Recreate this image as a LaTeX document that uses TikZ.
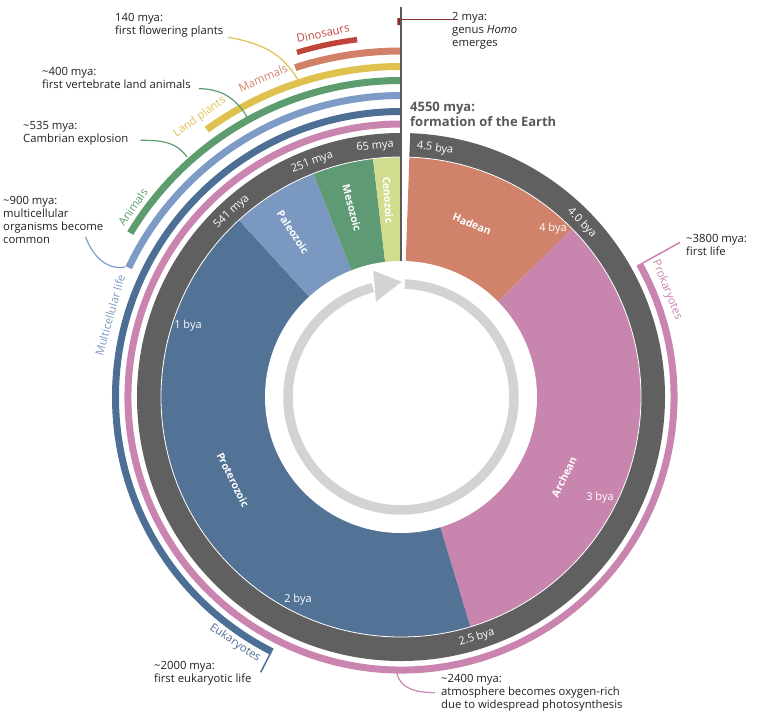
\documentclass[tikz,border=0pt]{standalone}
\usepackage{fontspec}
\setmainfont{Open Sans}
\usepackage{xcolor}
\usepackage{tikz}
\usetikzlibrary{positioning,calc}

\definecolor{ringgrey}{HTML}{606060}
\definecolor{axisgrey}{HTML}{5A5A5A}
\definecolor{titlegrey}{HTML}{58595B}
\definecolor{arrowgrey}{HTML}{D1D3D4}
\definecolor{notetext}{HTML}{231F20}
\definecolor{hadean}{HTML}{D0826A}
\definecolor{archean}{HTML}{C886AF}
\definecolor{proterozoic}{HTML}{527296}
\definecolor{paleozoic}{HTML}{7B98C0}
\definecolor{mesozoic}{HTML}{5E9B74}
\definecolor{cenozoic}{HTML}{D2DC8F}
\definecolor{homored}{HTML}{8B2E2A}
\definecolor{dinosaurs}{HTML}{C1443A}
\definecolor{mammals}{HTML}{D38069}
\definecolor{landplants}{HTML}{DFC24E}
\definecolor{animals}{HTML}{5C9C6E}
\definecolor{multicell}{HTML}{7D9BC6}
\definecolor{eukaryotes}{HTML}{4E6F95}
\definecolor{prokaryotes}{HTML}{C984B0}

\begin{document}
\begin{tikzpicture}[
    x=1pt, y=1pt,
    note/.style={align=left, anchor=north west, inner sep=0pt, text=notetext, font=\fontsize{11.3}{13}\selectfont},
    ringlabel/.style={text=white, inner sep=0pt, font=\fontsize{11}{12}\selectfont},
    eralabel/.style={text=white, inner sep=0pt, font=\bfseries\fontsize{10.5}{12}\selectfont},
    bandlabel/.style={inner sep=0pt, font=\fontsize{11.3}{13}\selectfont},
    band/.style={line width=7pt},
    pointer/.style={line width=1.2pt}
]
\useasboundingbox (-401,-324) rectangle (374,397);

% eras, 4550 mya at the top, clockwise to today
\foreach \pa/\pb/\col in {88/44.5/hadean, 44.5/-73.2/archean, -73.2/-227.5/proterozoic, -227.5/-248.6/paleozoic, -248.6/-263.3/mesozoic, -263.3/-270/cenozoic}
  \fill[\col] (0,0) -- (\pa:240) arc[start angle=\pa, end angle=\pb, radius=240] -- cycle;
\fill[white] (0,0) circle[radius=136];
\draw[ringgrey, line width=24pt] (88:252) arc[start angle=88, end angle=-270, radius=252];
\draw[white, line width=0.8pt] (88:240) arc[start angle=88, end angle=-270, radius=240];

% arrow of time
\draw[arrowgrey, line width=9.5pt] (88:113) arc[start angle=88, end angle=-255.5, radius=113];
\fill[arrowgrey] (102.4:129.3) -- (89.7:115.3) -- (104.7:98.5) -- cycle;

% life bands
\foreach \r/\e/\col in {346/107.8/mammals, 330.5/126/landplants, 316.5/148.8/animals, 301.5/154.6/multicell, 285.5/243/eukaryotes}
  \draw[band, \col] (90:\r) arc[start angle=90, end angle=\e, radius=\r];
\draw[band, prokaryotes] (29:273) arc[start angle=29, end angle=-270, radius=273];
\draw[band, dinosaurs, line width=5.5pt] (97:360) arc[start angle=97, end angle=106.8, radius=360];
\draw[band, homored] (90:375.5) arc[start angle=90, end angle=90.55, radius=375.5];

\coordinate (eukend) at (243:282);
\coordinate (euktip) at (243:309);
\draw[eukaryotes, line width=1.5pt] (eukend) -- (euktip);
\coordinate (prokend) at (29:270);
\coordinate (proktip) at (29:319);
\draw[prokaryotes, line width=1.5pt] (prokend) -- (proktip);

\draw[axisgrey, line width=1.7pt] (0,390) -- (0,136);

% labels on the grey ring
\node[ringlabel, rotate=-7.8] (r45) at (82.2:251) {4.5 bya};
\node[ringlabel, rotate=5.9] (r65) at (95.9:252) {65 mya};
\node[ringlabel, rotate=20.7] (r251) at (110.7:251) {251 mya};
\node[ringlabel, rotate=42.4] (r541) at (132.4:251) {541 mya};
\node[ringlabel, rotate=-46.1] (r40) at (43.9:251) {4.0 bya};
\node[ringlabel, rotate=17.5] (r25) at (-72.5:252) {2.5 bya};

\node[ringlabel] (b4) at (152,168) {4 bya};
\node[ringlabel] (b3) at (199,-101) {3 bya};
\node[ringlabel] (b2) at (-103,-203) {2 bya};
\node[ringlabel] (b1) at (-213,71) {1 bya};

\node[eralabel, rotate=-22.3] (had) at (71,173) {Hadean};
\node[eralabel, rotate=63.9] (arc) at (163,-80) {Archean};
\node[eralabel, rotate=-63.7] (pro) at (-168,-83) {Proterozoic};
\node[eralabel, rotate=-56.8] (pal) at (-108,165) {Paleozoic};
\node[eralabel, rotate=-75.5] (mes) at (-49,189) {Mesozoic};
\node[eralabel, rotate=-86.2] (cen) at (-13,197) {Cenozoic};

% band names
\node[bandlabel, text=dinosaurs, rotate=12.1] (dino) at (102.1:372) {Dinosaurs};
\node[bandlabel, text=mammals, rotate=23.4] (mamm) at (113.4:347.6) {Mammals};
\node[bandlabel, text=landplants, rotate=35.7] (plant) at (125.7:344.7) {Land plants};
\node[bandlabel, text=animals, rotate=54.7] (anim) at (144.7:328.5) {Animals};
\node[bandlabel, text=multicell, rotate=74.3] (mult) at (164.3:302.3) {Multicellular life};
\node[bandlabel, text=eukaryotes, rotate=-34] (euka) at (-124:296.8) {Eukaryotes};
\node[bandlabel, text=prokaryotes, rotate=-68.1] (proka) at (21.9:286.7) {Prokaryotes};

% notes
\node[note, font=\bfseries\fontsize{13}{15}\selectfont, text=titlegrey] (earth) at (9,295) {4550 mya:\\formation of the Earth};

\node[note] (homo) at (51,385) {2 mya:\\genus \textit{Homo}\\emerges};
\coordinate (homopt) at (0,377.7);
\draw[homored, line width=1.2pt] (homopt) -- (homopt -| homo.west);

\node[note] (flower) at (-286,384) {140 mya:\\first flowering plants};
\coordinate (flowerpt) at (-103,317);
\draw[pointer, landplants] ([xshift=5pt]flower.south east) to[out=-10, in=120] (flowerpt);

\node[note] (vert) at (-359,330) {\textasciitilde400 mya:\\first vertebrate land animals};
\coordinate (vertpt) at (-154,280);
\draw[pointer, animals] ([xshift=8pt]vert.south east) to[out=0, in=120] (vertpt);

\node[note] (cambrian) at (-378,276) {\textasciitilde535 mya:\\Cambrian explosion};
\coordinate (cambpt) at (-214,240);
\draw[pointer, animals] ([xshift=12pt,yshift=5pt]cambrian.south east) to[out=0, in=125] (cambpt);

\node[note] (multi) at (-398,201) {\textasciitilde900 mya:\\multicellular\\organisms become\\common};
\coordinate (multipt) at (-276,130);
\draw[pointer, multicell] ([xshift=-18pt,yshift=7pt]multi.south east) to[out=-70, in=190] (multipt);

\node[note] (euk) at (-247,-264) {\textasciitilde2000 mya:\\first eukaryotic life};

\node[note] (oxy) at (40,-277) {\textasciitilde2400 mya:\\atmosphere becomes oxygen-rich\\due to widespread photosynthesis};
\coordinate (oxypt) at (-4,-276);
\draw[pointer, prokaryotes] (oxypt) to[out=-80, in=180] ([xshift=-6pt]oxy.west);

\node[note] (life) at (285,163) {\textasciitilde3800 mya:\\first life};

\end{tikzpicture}
\end{document}
